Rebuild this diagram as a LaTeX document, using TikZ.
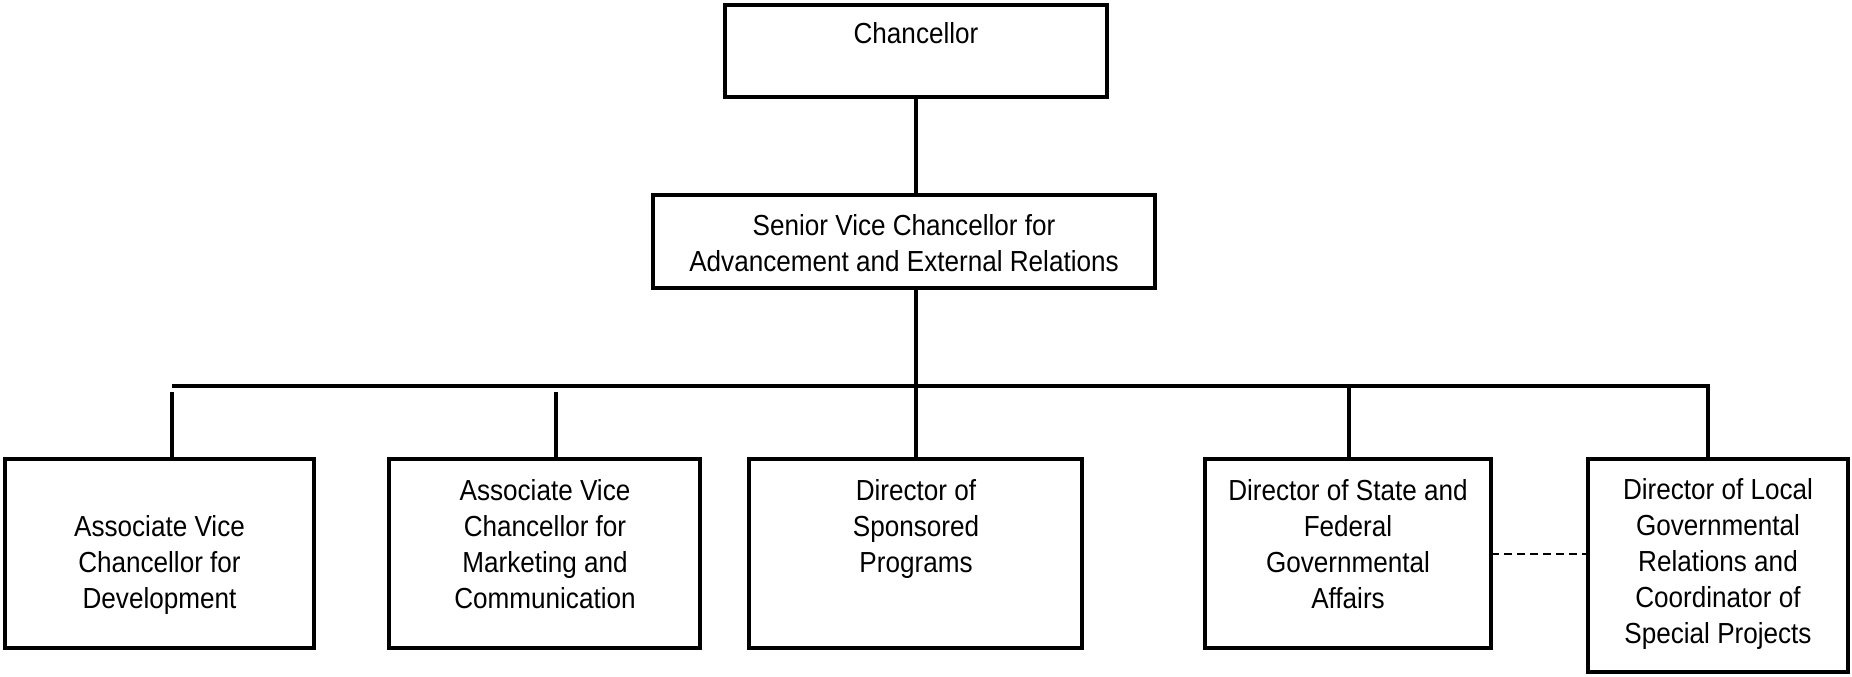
\documentclass[tikz,border=0pt]{standalone}
\usepackage{fontspec}
\setmainfont{Liberation Sans}[FakeStretch=0.9]
\begin{document}
\begin{tikzpicture}[x=0.5pt,y=-0.5pt,
  box/.style={draw=black, line width=2pt, rectangle, inner sep=0pt, outer sep=0pt, fill=white},
  lbl/.style={anchor=north, inner sep=0pt, align=center, font=\fontsize{14.5pt}{18pt}\selectfont},
  conn/.style={line width=2pt},
  dashconn/.style={line width=1pt, dash pattern=on 4pt off 2.5pt}]
\useasboundingbox (0,0) rectangle (1852,676);
% boxes
\node[box, minimum width=191pt, minimum height=46pt] (chan) at (916,51) {};
\node[box, minimum width=251pt, minimum height=46.5pt] (svc) at (904,241.5) {};
\node[box, minimum width=154.5pt, minimum height=94.5pt] (b1) at (159.5,553.5) {};
\node[box, minimum width=155.5pt, minimum height=94.5pt] (b2) at (544.5,553.5) {};
\node[box, minimum width=166.5pt, minimum height=94.5pt] (b3) at (915.5,553.5) {};
\node[box, minimum width=143pt, minimum height=94.5pt] (b4) at (1348,553.5) {};
\node[box, minimum width=130pt, minimum height=106.5pt] (b5) at (1718,565.5) {};
% texts
\node[lbl] (tchan) at (916,17.8) {\strut Chancellor};
\node[lbl] (tsvc) at (904,209.8) {\strut Senior Vice Chancellor for\\Advancement and External Relations};
\node[lbl] (t1) at (159.5,510.8) {\strut Associate Vice\\Chancellor for\\Development};
\node[lbl] (t2) at (545,474.8) {\strut Associate Vice\\Chancellor for\\Marketing and\\Communication};
\node[lbl] (t3) at (916,474.8) {\strut Director of\\Sponsored\\Programs};
\node[lbl] (t4) at (1348,474.8) {\strut Director of State and\\Federal\\Governmental\\Affairs};
\node[lbl] (t5) at (1718,474) {\strut Director of Local\\Governmental\\Relations and\\Coordinator of\\Special Projects};
% connector coordinates
\coordinate (barL) at (172,386);
\coordinate (barR) at (1708,386);
\coordinate (d1) at (172,392);
\coordinate (d2) at (556,392);
\coordinate (d4) at (1349,386);
% connectors
\draw[conn] (chan.south) -- (chan.south |- svc.north);
\draw[conn] (chan.south |- svc.south) -- (chan.south |- b3.north);
\draw[conn] (barL) -- (barR) -- (barR |- b5.north);
\draw[conn] (d1) -- (d1 |- b1.north);
\draw[conn] (d2) -- (d2 |- b2.north);
\draw[conn] (d4) -- (d4 |- b4.north);
\draw[dashconn] (b4.east) -- (b4.east -| b5.west);
\end{tikzpicture}
\end{document}
